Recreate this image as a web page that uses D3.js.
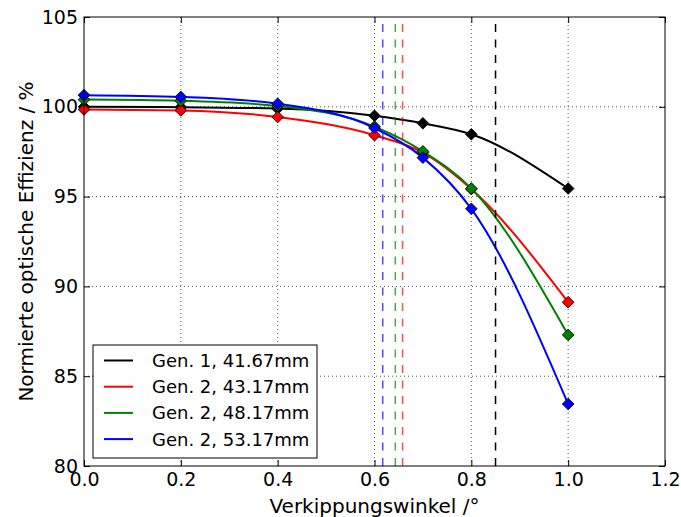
<!DOCTYPE html>
<html>
<head>
<meta charset="utf-8">
<script src="https://cdn.jsdelivr.net/npm/d3@7"></script>
<style>
  body { margin: 0; background: #fff; }
  text { font-family: "DejaVu Sans", sans-serif; }
</style>
</head>
<body>
<svg id="canvas"></svg>
<script>
let angles = [0.0, 0.2, 0.4, 0.6, 0.7, 0.8, 1.0]

let gen1_4167 = [100.0, 99.98, 99.9, 99.5, 99.08, 98.47, 95.45]
let gen2_4317 = [99.85, 99.8, 99.43, 98.42, 97.45, 95.42, 89.12]
let gen2_4817 = [100.4, 100.33, 100.05, 98.9, 97.52, 95.45, 87.3]
let gen2_5317 = [100.65, 100.55, 100.17, 98.82, 97.17, 94.32, 83.45]

let seriesNames = ['Gen. 1, 41.67mm', 'Gen. 2, 43.17mm', 'Gen. 2, 48.17mm', 'Gen. 2, 53.17mm']
let seriesColors = ['black', 'red', 'green', 'blue']
let seriesValues = [gen1_4167, gen2_4317, gen2_4817, gen2_5317]

// Grenzwinkel (gestrichelte Linien)
let limitAngles = [0.85, 0.658, 0.643, 0.617]

let xTicks = [0.0, 0.2, 0.4, 0.6, 0.8, 1.0, 1.2]
let yTicks = [80, 85, 90, 95, 100, 105]

let width = 681
let height = 517
let padLeft = 84
let padRight = 665
let padTop = 17
let padBottom = 466

let canvas = d3.select('#canvas')
canvas.attr('width', width)
      .attr('height', height)

let xScale = d3.scaleLinear()
               .domain([0, 1.2])
               .range([padLeft, padRight])

let yScale = d3.scaleLinear()
               .domain([80, 105])
               .range([padBottom, padTop])

// grid
canvas.append('g')
      .selectAll('line')
      .data(xTicks.slice(1, -1))
      .enter()
      .append('line')
      .attr('x1', (d) => xScale(d))
      .attr('x2', (d) => xScale(d))
      .attr('y1', padTop)
      .attr('y2', padBottom)
      .attr('stroke', '#555')
      .attr('stroke-width', 1)
      .attr('stroke-dasharray', '1,3')

canvas.append('g')
      .selectAll('line')
      .data(yTicks.slice(1, -1))
      .enter()
      .append('line')
      .attr('x1', padLeft)
      .attr('x2', padRight)
      .attr('y1', (d) => yScale(d))
      .attr('y2', (d) => yScale(d))
      .attr('stroke', '#555')
      .attr('stroke-width', 1)
      .attr('stroke-dasharray', '1,3')

// axes (ticks inside, on all four sides)
let xAxis = d3.axisBottom(xScale)
              .tickValues(xTicks)
              .tickFormat(d3.format('.1f'))
              .tickSizeInner(-6)
              .tickSizeOuter(0)

let yAxis = d3.axisLeft(yScale)
              .tickValues(yTicks)
              .tickFormat(d3.format('d'))
              .tickSizeInner(-6)
              .tickSizeOuter(0)

let gx = canvas.append('g')
      .attr('transform', 'translate(0,' + padBottom + ')')
      .call(xAxis)

let gy = canvas.append('g')
      .attr('transform', 'translate(' + padLeft + ',0)')
      .call(yAxis)

canvas.append('g')
      .attr('transform', 'translate(0,' + padTop + ')')
      .call(d3.axisTop(xScale).tickValues(xTicks).tickFormat('').tickSizeInner(-6).tickSizeOuter(0))

canvas.append('g')
      .attr('transform', 'translate(' + padRight + ',0)')
      .call(d3.axisRight(yScale).tickValues(yTicks).tickFormat('').tickSizeInner(-6).tickSizeOuter(0))

canvas.selectAll('.domain').remove()
canvas.selectAll('.tick line').attr('stroke', 'black')

gx.selectAll('text')
  .attr('font-size', '19px')
  .attr('fill', 'black')
  .attr('y', 7)
  .attr('dy', '0.71em')

gy.selectAll('text')
  .attr('font-size', '19px')
  .attr('fill', 'black')
  .attr('x', -6)

// series curves
let line = d3.line()
             .x((d, i) => xScale(angles[i]))
             .y((d) => yScale(d))
             .curve(d3.curveMonotoneX)

canvas.append('g')
      .selectAll('path')
      .data(seriesValues)
      .enter()
      .append('path')
      .attr('d', (d) => line(d))
      .attr('fill', 'none')
      .attr('stroke', (d, i) => seriesColors[i])
      .attr('stroke-width', 2)

// vertical dashed lines
canvas.append('g')
      .selectAll('line')
      .data(limitAngles)
      .enter()
      .append('line')
      .attr('x1', (d) => xScale(d))
      .attr('x2', (d) => xScale(d))
      .attr('y1', padBottom)
      .attr('y2', padTop)
      .attr('stroke', (d, i) => seriesColors[i])
      .attr('stroke-opacity', (d, i) => i == 0 ? 1 : 0.7)
      .attr('stroke-width', 1.5)
      .attr('stroke-dasharray', '8,7.5')

// markers
let diamond = d3.symbol().type(d3.symbolSquare).size(68)

seriesValues.forEach((values, s) => {
    canvas.append('g')
          .selectAll('path')
          .data(values)
          .enter()
          .append('path')
          .attr('d', diamond)
          .attr('transform', (d, i) => 'translate(' + xScale(angles[i]) + ',' + yScale(d) + ') rotate(45)')
          .attr('fill', seriesColors[s])
          .attr('stroke', 'black')
          .attr('stroke-width', 0.8)
})

// frame
canvas.append('rect')
      .attr('x', padLeft)
      .attr('y', padTop)
      .attr('width', padRight - padLeft)
      .attr('height', padBottom - padTop)
      .attr('fill', 'none')
      .attr('stroke', 'black')
      .attr('stroke-width', 1)

// axis labels
canvas.append('text')
      .attr('x', (padLeft + padRight) / 2)
      .attr('y', 513)
      .attr('text-anchor', 'middle')
      .attr('font-size', '20px')
      .text('Verkippungswinkel /°')

canvas.append('text')
      .attr('transform', 'translate(33,' + (padTop + padBottom) / 2 + ') rotate(-90)')
      .attr('text-anchor', 'middle')
      .attr('font-size', '20px')
      .text('Normierte optische Effizienz / %')

// legend
let legend = canvas.append('g')

legend.append('rect')
      .attr('x', 93)
      .attr('y', 345)
      .attr('width', 224)
      .attr('height', 113)
      .attr('fill', 'white')
      .attr('stroke', 'black')
      .attr('stroke-width', 1)

let rows = legend.selectAll('.row')
      .data(seriesNames)
      .enter()
      .append('g')
      .attr('transform', (d, i) => 'translate(0,' + (360.5 + i * 26.2) + ')')

rows.append('line')
    .attr('x1', 104)
    .attr('x2', 133)
    .attr('stroke', (d, i) => seriesColors[i])
    .attr('stroke-width', 2)

rows.append('text')
    .attr('x', 152)
    .attr('dy', '0.36em')
    .attr('font-size', '18px')
    .text((d) => d)
</script>
</body>
</html>
